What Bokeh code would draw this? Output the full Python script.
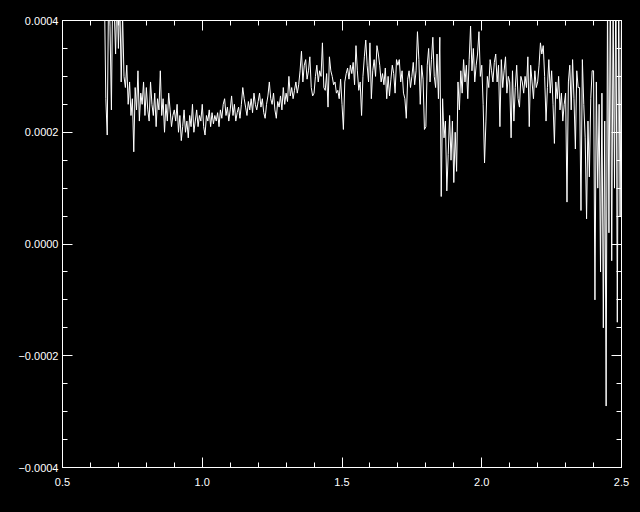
import numpy as np
from bokeh.plotting import figure
from bokeh.models import (Range1d, LinearAxis, SingleIntervalTicker,
                          NumeralTickFormatter, CustomJSTickFormatter)
from bokeh.embed import file_html
from bokeh.resources import INLINE

# Wavelength grid (regular sampling) and flux values (units of 1e-4)
WAVE_START = 0.65
WAVE_STEP = 0.005
FLUX_E4 = [
    4.5, 2.6, 1.95, 4.6, 3.9, 2.4, 4.8, 4.2, 3.4, 4.6,
    3.5, 4.4, 2.9, 4.1, 3.0, 2.8, 3.2, 2.5, 2.9, 2.3,
    2.6, 1.65, 2.8, 2.4, 3.1, 2.2, 2.7, 2.5, 2.9, 2.3,
    2.8, 2.4, 2.2, 2.9, 2.5, 2.3, 2.7, 2.1, 2.6, 2.4,
    3.1, 2.3, 2.6, 2.0, 2.5, 2.2, 2.7, 2.4, 2.1, 2.3,
    2.4, 2.2, 2.5, 2.0, 2.3, 1.85, 2.1, 2.4, 2.0, 2.2,
    1.9, 2.3, 2.1, 2.5, 2.0, 2.2, 2.4, 2.1, 2.3, 2.2,
    2.5, 2.1, 1.95, 2.3, 2.2, 2.4, 2.1, 2.35, 2.15, 2.3,
    2.2, 2.35, 2.1, 2.4, 2.25, 2.5, 2.6, 2.3, 2.45, 2.2,
    2.4, 2.65, 2.3, 2.5, 2.2, 2.35, 2.45, 2.25, 2.5, 2.8,
    2.6, 2.45, 2.3, 2.55, 2.4, 2.6, 2.35, 2.7, 2.5, 2.4,
    2.55, 2.7, 2.45, 2.6, 2.35, 2.25, 2.5, 2.65, 2.9, 2.6,
    2.5, 2.7, 2.4, 2.25, 2.55, 2.45, 2.65, 2.4, 2.8, 2.5,
    2.7, 2.55, 3.0, 2.65, 2.8, 2.6, 2.75, 2.9, 2.7, 2.85,
    3.1, 3.45, 2.9, 3.2, 3.3, 2.95, 3.1, 3.35, 2.8, 2.65,
    2.7, 3.0, 3.2, 2.9, 3.1, 3.0, 3.6, 2.8, 2.75, 3.05,
    2.45, 3.35, 3.1, 3.0, 2.85, 2.9, 2.7, 2.75, 2.6, 2.95,
    2.5, 2.05, 2.9, 3.05, 3.15, 2.95, 3.2, 3.05, 3.25, 2.85,
    3.55, 3.1, 2.75, 2.9, 2.3, 3.0, 3.35, 3.65, 3.2, 2.9,
    3.6, 2.6, 3.1, 3.3, 3.0, 3.55, 3.4, 3.2, 2.9, 3.05,
    2.85, 3.15, 2.6, 3.0, 2.65, 2.95, 3.2, 3.05, 2.7, 3.3,
    3.2, 3.3, 2.9, 3.1, 2.7, 2.6, 2.25, 2.95, 3.1, 2.8,
    3.0, 3.25, 2.85, 3.1, 3.8, 3.3, 2.5, 3.2, 2.95, 2.05,
    2.1, 3.2, 3.5, 2.9, 3.3, 3.7, 3.0, 2.8, 3.4, 2.6,
    3.7, 0.85, 2.6, 1.9, 2.2, 0.95, 1.6, 2.3, 1.5, 2.2,
    1.1, 2.0, 1.3, 2.9, 2.4, 3.1, 2.7, 3.3, 2.9, 3.2,
    2.6, 3.3, 3.9, 3.1, 3.5, 2.9, 3.2, 3.4, 3.8, 3.0,
    3.2, 2.5, 1.45, 2.2, 3.0, 2.8, 3.3, 3.1, 2.9, 3.25,
    3.4, 2.9, 3.2, 2.1, 3.3, 2.8, 3.1, 3.35, 2.7, 3.0,
    2.9, 1.9, 3.1, 2.2, 2.8, 3.2, 2.6, 2.45, 3.0, 2.9,
    2.7, 3.0, 2.8, 3.35, 2.1, 3.2, 2.9, 2.6, 3.1, 2.8,
    2.9, 3.2, 3.6, 3.4, 3.55, 3.0, 2.2, 2.8, 3.3, 2.7,
    3.1, 2.5, 1.8, 2.9, 2.6, 3.0, 2.4, 2.7, 2.2, 2.5,
    2.7, 0.75, 2.9, 3.2, 2.4, 3.3, 2.6, 1.7, 3.1, 2.8,
    2.8, 0.6, 3.3, 2.5, 1.9, 0.45, 2.2, 1.2, 2.6, 3.1,
    3.1, -1.0, 2.9, 1.0, 2.5, -0.5, 2.7, -1.5, 2.2, -2.9,
    4.5, 0.2, 4.8, -0.3, 4.3, 1.0, 5.0, -1.4, 4.6, 0.5,
    4.2,
]
X_RANGE = (0.5, 2.5)
Y_RANGE = (-0.0004, 0.0004)

wave = WAVE_START + WAVE_STEP * np.arange(len(FLUX_E4))
flux = np.array(FLUX_E4) * 1e-4

FONT = "Liberation Sans"
FS = "11px"

p = figure(width=632, height=504, output_backend="svg", toolbar_location=None,
           x_range=Range1d(*X_RANGE), y_range=Range1d(*Y_RANGE),
           min_border_left=62, min_border_right=11, min_border_top=20,
           min_border_bottom=37, x_axis_location=None, y_axis_location=None)
p.background_fill_color = "black"
p.border_fill_color = "black"
p.outline_line_color = "white"
p.outline_line_width = 1
p.xgrid.visible = False
p.ygrid.visible = False

p.line(wave, flux, line_color="white", line_width=1)

yfmt = CustomJSTickFormatter(code="""
    const s = Math.abs(tick) < 1e-12 ? '0.0000' : tick.toFixed(4);
    return s.replace('-', '\\u2212');
""")
blank = CustomJSTickFormatter(code="return '';")

def style(ax, show_labels):
    ax.axis_line_color = "white"
    ax.major_tick_line_color = "white"
    ax.minor_tick_line_color = "white"
    ax.major_tick_in = 10
    ax.major_tick_out = 0
    ax.minor_tick_in = 5
    ax.minor_tick_out = 0
    ax.major_label_text_color = "white"
    ax.major_label_text_font = FONT
    ax.major_label_text_font_size = FS
    if not show_labels:
        ax.formatter = blank
        ax.major_label_standoff = 0

xb = LinearAxis(ticker=SingleIntervalTicker(interval=0.5, num_minor_ticks=5),
                formatter=NumeralTickFormatter(format="0.0"))
style(xb, True)
xb.major_label_standoff = 10
p.add_layout(xb, "below")

xt = LinearAxis(ticker=SingleIntervalTicker(interval=0.5, num_minor_ticks=5))
style(xt, False)
p.add_layout(xt, "above")

yl = LinearAxis(ticker=SingleIntervalTicker(interval=0.0002, num_minor_ticks=4),
                formatter=yfmt)
style(yl, True)
yl.major_label_standoff = 4
p.add_layout(yl, "left")

yr = LinearAxis(ticker=SingleIntervalTicker(interval=0.0002, num_minor_ticks=4))
style(yr, False)
p.add_layout(yr, "right")

html = file_html(p, INLINE)
html = html.replace("</head>", "<style>html,body{background:#000;}</style></head>", 1)
open("out.html", "w").write(html)
